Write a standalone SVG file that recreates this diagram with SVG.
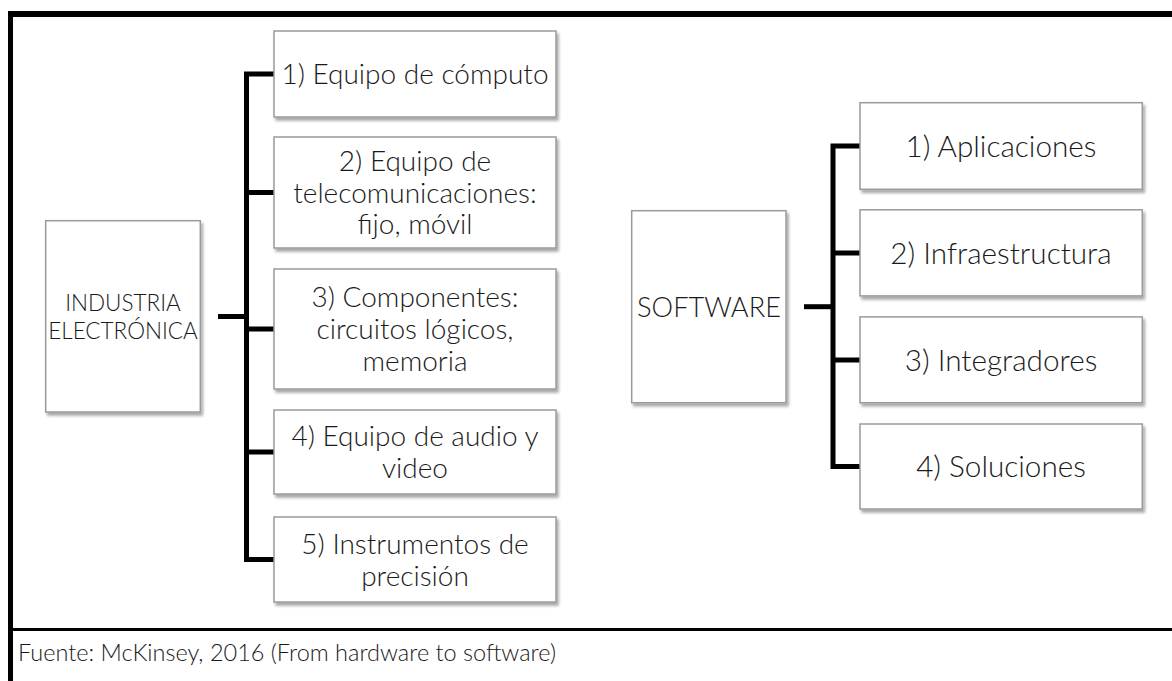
<svg xmlns="http://www.w3.org/2000/svg" width="1172" height="681" viewBox="0 0 1172 681">
<defs>
<filter id="sh" x="-10%" y="-10%" width="130%" height="130%">
<feDropShadow dx="2" dy="3" stdDeviation="1.6" flood-color="#000" flood-opacity="0.35"/>
</filter>
<style>
.box{fill:#fff;stroke:#9a9a9a;stroke-width:1.5;filter:url(#sh)}
.t{font-family:Lato,"Liberation Sans",sans-serif;font-weight:300;fill:#1a1a1a;text-anchor:middle}
.l{font-size:28px}
.r{font-size:29.7px}
.m{font-size:22.5px}
.c{fill:none;stroke:#000;stroke-width:5;stroke-linejoin:miter}
</style>
</defs>
<rect width="1172" height="681" fill="#fff"/>
<g id="frame">
<rect x="8" y="11" width="1164" height="6" fill="#000"/>
<rect x="8" y="11" width="5" height="670" fill="#000"/>
<rect x="13" y="628" width="1159" height="3" fill="#000"/>
</g>
<g id="connectors">
<path class="c" d="M274,74 H246.5 V559.5 H274"/>
<path class="c" d="M246.5,192.5 H274 M246.5,329 H274 M246.5,452 H274"/>
<path class="c" d="M218,316.5 H246.5"/>
<path class="c" d="M860,146 H833 V466.5 H860"/>
<path class="c" d="M833,253 H860 M833,360 H860"/>
<path class="c" d="M804,306.7 H833"/>
</g>
<g id="industria">
<rect class="box" x="45.7" y="220.7" width="154.6" height="191.3"/>
<text class="t m" x="123" y="310.5">INDUSTRIA</text>
<text class="t m" x="123" y="338.8">ELECTRÓNICA</text>
</g>
<g id="l1">
<rect class="box" x="274" y="31" width="282" height="86"/>
<text class="t l" x="415" y="84">1) Equipo de cómputo</text>
</g>
<g id="l2">
<rect class="box" x="274" y="137" width="282" height="111"/>
<text class="t l" x="415" y="170.8">2) Equipo de</text>
<text class="t l" x="415" y="202.6">telecomunicaciones:</text>
<text class="t l" x="415" y="234.4">fijo, móvil</text>
</g>
<g id="l3">
<rect class="box" x="274" y="269" width="282" height="120"/>
<text class="t l" x="415" y="307.3">3) Componentes:</text>
<text class="t l" x="415" y="339.1">circuitos lógicos,</text>
<text class="t l" x="415" y="370.9">memoria</text>
</g>
<g id="l4">
<rect class="box" x="274" y="410" width="282" height="84"/>
<text class="t l" x="415" y="446.2">4) Equipo de audio y</text>
<text class="t l" x="415" y="478">video</text>
</g>
<g id="l5">
<rect class="box" x="274" y="517" width="282" height="85"/>
<text class="t l" x="415" y="553.7">5) Instrumentos de</text>
<text class="t l" x="415" y="585.5">precisión</text>
</g>
<g id="software">
<rect class="box" x="631.7" y="210.7" width="154.3" height="192"/>
<text class="t" style="font-size:27.2px" x="709" y="316.5">SOFTWARE</text>
</g>
<g id="r1">
<rect class="box" x="860" y="102.7" width="282.3" height="86.6"/>
<text class="t r" x="1001" y="156.5">1) Aplicaciones</text>
</g>
<g id="r2">
<rect class="box" x="860" y="209.8" width="282.3" height="86.1"/>
<text class="t r" x="1001" y="263.5">2) Infraestructura</text>
</g>
<g id="r3">
<rect class="box" x="860" y="316.9" width="282.3" height="85.8"/>
<text class="t r" x="1001" y="370.5">3) Integradores</text>
</g>
<g id="r4">
<rect class="box" x="860" y="424" width="282.3" height="85"/>
<text class="t r" x="1001" y="477">4) Soluciones</text>
</g>
<g id="source">
<text style="font-family:Lato,'Liberation Sans',sans-serif;font-weight:300;font-size:23.5px;fill:#1a1a1a" x="18" y="661">Fuente: McKinsey, 2016 (From hardware to software)</text>
</g>
</svg>
